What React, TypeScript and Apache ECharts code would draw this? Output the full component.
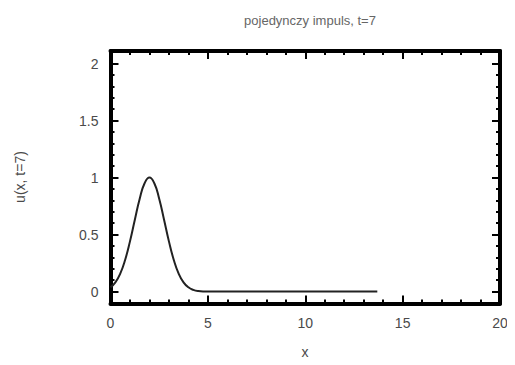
import React, { useEffect, useRef } from "react";
import * as echarts from "echarts";

const xs = [0, 0.25, 0.5, 0.75, 1.0, 1.25, 1.5, 1.75, 2.0, 2.25, 2.5, 2.75, 3.0, 3.25, 3.5, 3.75, 4.0, 4.25, 4.5, 5.0, 13.7];
const us = [0.037, 0.081, 0.157, 0.277, 0.44, 0.63, 0.814, 0.95, 1.0, 0.95, 0.814, 0.63, 0.44, 0.277, 0.157, 0.081, 0.037, 0.015, 0.005, 0, 0];
const yMajorTicks = [0, 0.5, 1, 1.5, 2];
const yMinorTicks = [-0.1, 0.1, 0.2, 0.3, 0.4, 0.6, 0.7, 0.8, 0.9, 1.1, 1.2, 1.3, 1.4, 1.6, 1.7, 1.8, 1.9, 2.1];
const titleText = "pojedynczy impuls, t=7";
const xName = "x";
const yName = "u(x, t=7)";

const FONT = "Liberation Sans, Arial, sans-serif";
const TXT = "#4a4a4a";

export default function App() {
  const ref = useRef<HTMLDivElement>(null);
  useEffect(() => {
    if (!ref.current) return;
    const chart = echarts.init(ref.current, null, { renderer: "svg" });
    const yMin = -0.105;
    const yMax = 2.11;
    const baseY = (pos: string, major: boolean, labels: boolean) => ({
      type: "value",
      position: pos,
      min: yMin,
      max: yMax,
      splitLine: { show: false },
      axisLine: { show: major, onZero: false, lineStyle: { color: "#000", width: 4 } },
      axisTick: {
        show: true,
        inside: true,
        length: major ? 8 : 4,
        lineStyle: { color: "#000", width: 2 },
        customValues: major ? yMajorTicks : yMinorTicks,
      },
      axisLabel: {
        show: labels,
        customValues: yMajorTicks,
        color: TXT,
        fontFamily: FONT,
        fontSize: 14,
        margin: 12,
      },
    });
    const baseX = (pos: string, labels: boolean) => ({
      type: "value",
      position: pos,
      min: 0,
      max: 20,
      interval: 5,
      splitLine: { show: false },
      axisLine: { show: true, onZero: false, lineStyle: { color: "#000", width: 4 } },
      axisTick: { show: true, inside: true, length: 8, lineStyle: { color: "#000", width: 2 } },
      minorTick: { show: true, splitNumber: 5, length: 4, lineStyle: { color: "#000", width: 2 } },
      minorSplitLine: { show: false },
      axisLabel: { show: labels, color: TXT, fontFamily: FONT, fontSize: 14, margin: 12 },
    });
    chart.setOption({
      animation: false,
      backgroundColor: "#fff",
      title: {
        text: titleText,
        left: 305,
        top: 9,
        textAlign: "center",
        textStyle: { color: "#666", fontFamily: FONT, fontSize: 13, fontWeight: "normal" },
      },
      grid: { left: 110.5, right: 15, top: 51, bottom: 61.5, containLabel: false },
      xAxis: [baseX("bottom", true), baseX("top", false)],
      yAxis: [
        baseY("left", true, true),
        baseY("left", false, false),
        baseY("right", true, false),
        baseY("right", false, false),
      ],
      graphic: [
        {
          type: "text",
          x: 305,
          y: 352,
          style: { text: xName, fill: TXT, font: `14px ${FONT}`, textAlign: "center", textVerticalAlign: "middle" },
        },
        {
          type: "text",
          x: 20,
          y: 177,
          rotation: Math.PI / 2,
          style: { text: yName, fill: TXT, font: `14px ${FONT}`, textAlign: "center", textVerticalAlign: "middle" },
        },
      ],
      series: [
        {
          type: "line",
          xAxisIndex: 0,
          yAxisIndex: 0,
          data: xs.map((x, i) => [x, us[i]]),
          smooth: true,
          showSymbol: false,
          lineStyle: { color: "#222", width: 2 },
        },
      ],
    });
    return () => chart.dispose();
  }, []);
  return <div ref={ref} style={{ width: 515, height: 365, margin: -8 }} />;
}
